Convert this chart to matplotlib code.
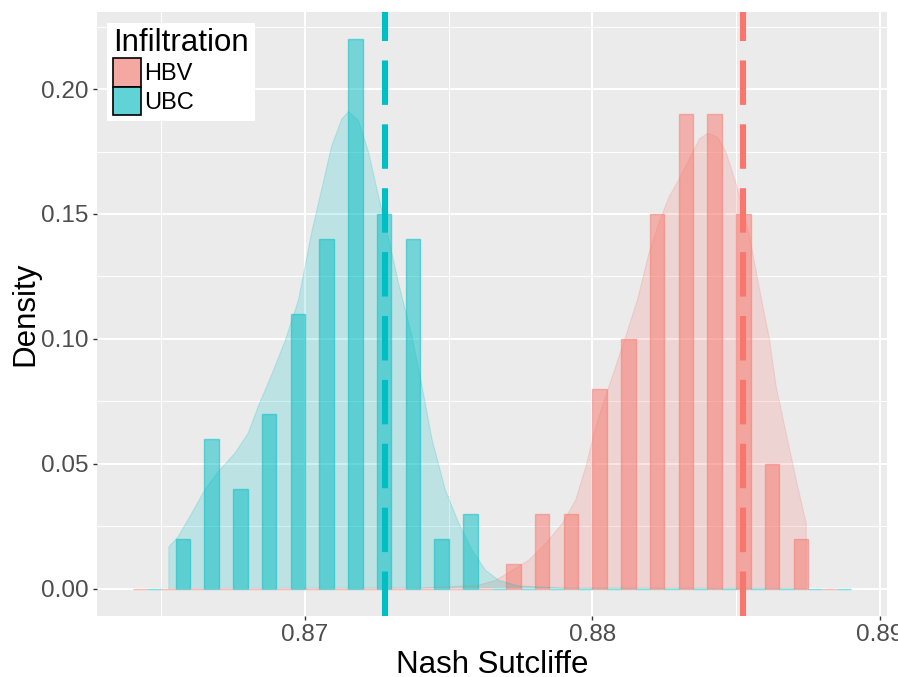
import numpy as np
import matplotlib
matplotlib.use("Agg")
import matplotlib.pyplot as plt
from matplotlib.patches import Patch

plt.rcParams["font.family"] = ["Liberation Sans", "DejaVu Sans"]
plt.rcParams["lines.scale_dashes"] = False

# histogram bins (left edges), binwidth 0.001
bin_left = [0.864, 0.865, 0.866, 0.867, 0.868, 0.869, 0.870, 0.871, 0.872,
            0.873, 0.874, 0.875, 0.876, 0.877, 0.878, 0.879, 0.880, 0.881,
            0.882, 0.883, 0.884, 0.885, 0.886, 0.887, 0.888]
hbv_prop = [0, 0, 0, 0, 0, 0, 0, 0, 0, 0, 0, 0, 0,
            0.01, 0.03, 0.03, 0.08, 0.10, 0.15, 0.19, 0.19, 0.15, 0.05, 0.02, 0]
ubc_prop = [0, 0.02, 0.06, 0.04, 0.07, 0.11, 0.14, 0.22, 0.15, 0.14, 0.02, 0.03,
            0, 0, 0, 0, 0, 0, 0, 0, 0, 0, 0, 0, 0]

# density curves
ubc_dens_x = [0.86526, 0.86558, 0.86605, 0.86651, 0.86698, 0.86756, 0.86802,
              0.86837, 0.86884, 0.86930, 0.86977, 0.87023, 0.87058, 0.87093,
              0.87128, 0.87151, 0.87186, 0.87221, 0.87256, 0.87291, 0.87325,
              0.87372, 0.87407, 0.87442, 0.87488, 0.87535, 0.87581, 0.87628,
              0.87674, 0.87744, 0.87900, 0.88744]
ubc_dens_y = [0.0167, 0.0207, 0.0300, 0.0395, 0.0468, 0.0542, 0.0622,
              0.0729, 0.0857, 0.0990, 0.1155, 0.1426, 0.1600, 0.1774,
              0.1880, 0.1910, 0.1874, 0.1747, 0.1570, 0.1400, 0.1225,
              0.1010, 0.0810, 0.0596, 0.0395, 0.0261, 0.0154, 0.0073,
              0.0033, 0.0010, 0.0002, 0.0]
hbv_dens_x = [0.86526, 0.87400, 0.87600, 0.87663, 0.87721, 0.87779, 0.87837,
              0.87895, 0.87942, 0.87977, 0.88012, 0.88046, 0.88081, 0.88116,
              0.88157, 0.88197, 0.88232, 0.88267, 0.88302, 0.88337, 0.88372,
              0.88401, 0.88436, 0.88465, 0.88500, 0.88547, 0.88581, 0.88616,
              0.88639, 0.88674, 0.88709, 0.88744]
hbv_dens_y = [0.0, 0.0002, 0.0012, 0.0033, 0.0073, 0.0114, 0.0180,
              0.0260, 0.0355, 0.0488, 0.0650, 0.0770, 0.0890, 0.1010,
              0.1158, 0.1345, 0.1466, 0.1570, 0.1640, 0.1720, 0.1800,
              0.1823, 0.1807, 0.1747, 0.1620, 0.1410, 0.1200, 0.0997,
              0.0810, 0.0622, 0.0435, 0.0260]

groups = ["HBV", "UBC"]
colors = {"HBV": "#F8766D", "UBC": "#00BFC4"}
key_colors = {"HBV": "#F5A8A2", "UBC": "#60D3D6"}
mean_ns = {"HBV": 0.88523, "UBC": 0.87279}

fig = plt.figure(figsize=(8.98, 6.77), dpi=100)
ax = fig.add_axes([0.1077, 0.0901, 0.8801, 0.8926])
ax.set_facecolor("#EBEBEB")

half = 0.0005
bl = np.array(bin_left)
ax.bar(bl, hbv_prop, width=half, align="edge", color=colors["HBV"], alpha=0.5,
       edgecolor=colors["HBV"], linewidth=1.0, zorder=2)
ax.bar(bl + half, ubc_prop, width=half, align="edge", color=colors["UBC"], alpha=0.5,
       edgecolor=colors["UBC"], linewidth=1.0, zorder=2)

for g, dx, dy in [("HBV", hbv_dens_x, hbv_dens_y), ("UBC", ubc_dens_x, ubc_dens_y)]:
    px = [dx[0]] + list(dx) + [dx[-1]]
    py = [0] + list(dy) + [0]
    ax.fill(px, py, color=colors[g], alpha=0.2, linewidth=0, zorder=3)
    ax.plot(px, py, color=colors[g], alpha=0.2, linewidth=0.8, zorder=3)

for g in groups:
    ax.axvline(mean_ns[g], color=colors[g], linewidth=4.4,
               linestyle=(0, (32, 14)), zorder=4)

ax.set_xlim(0.86275, 0.89025)
ax.set_ylim(-0.011, 0.231)
ax.set_xticks([0.87, 0.88, 0.89])
ax.set_xticklabels(["0.87", "0.88", "0.89"])
ax.set_yticks([0.0, 0.05, 0.10, 0.15, 0.20])
ax.set_yticklabels(["0.00", "0.05", "0.10", "0.15", "0.20"])
ax.set_xticks([0.865, 0.875, 0.885], minor=True)
ax.set_yticks([0.025, 0.075, 0.125, 0.175, 0.225], minor=True)
ax.grid(which="major", color="white", linewidth=1.5, zorder=0)
ax.grid(which="minor", color="white", linewidth=0.7, zorder=0)
ax.set_axisbelow(True)
for s in ax.spines.values():
    s.set_visible(False)
ax.tick_params(which="major", length=3, width=1, color="#333333",
               labelsize=17.5, labelcolor="#4D4D4D", pad=3)
ax.tick_params(which="minor", length=0)

ax.set_xlabel("Nash Sutcliffe", fontsize=22.5, color="black", labelpad=2.5)
ax.set_ylabel("Density", fontsize=22.5, color="black", labelpad=0)

handles = [Patch(facecolor=key_colors[g], edgecolor="black", linewidth=1.2) for g in groups]
leg = ax.legend(handles, groups, title="Infiltration", loc="upper left",
                bbox_to_anchor=(0.0132, 0.982), fontsize=17, title_fontsize=22.5,
                frameon=True, fancybox=False, framealpha=1, edgecolor="white",
                handlelength=1.17, handleheight=1.468, handletextpad=0.15,
                labelspacing=0.0, borderpad=0.25, borderaxespad=0.0,
                alignment="left")
leg.get_frame().set_linewidth(0)

fig.savefig("out.png", dpi=100)
